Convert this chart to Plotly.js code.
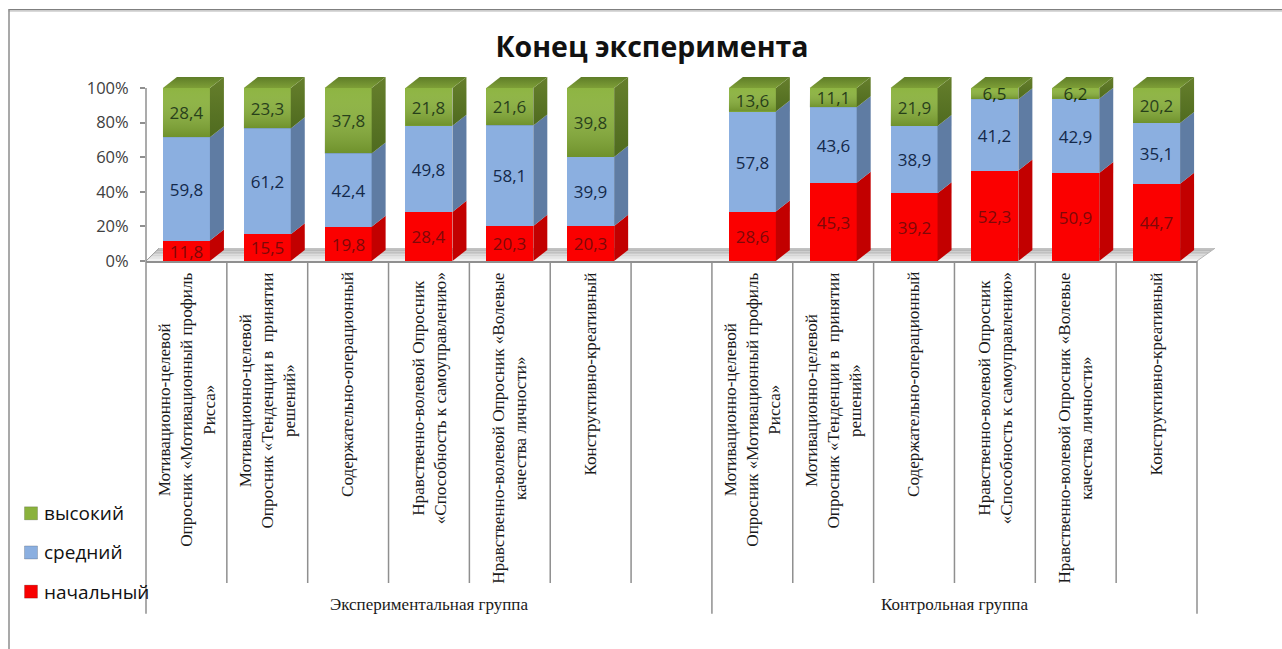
<!DOCTYPE html>
<html>
<head>
<meta charset="utf-8">
<script src="https://cdn.plot.ly/plotly-3.0.1.min.js"></script>
<style>html,body{margin:0;padding:0;background:#fff;overflow:hidden}</style>
</head>
<body>
<div id="chart" style="width:1282px;height:649px"></div>
<script>
const categories = [
  "Мотивационно-целевой<br>Опросник «Мотивационный профиль<br>Рисса»",
  "Мотивационно-целевой<br>Опросник «Тенденции в  принятии<br>решений»",
  "Содержательно-операционный",
  "Нравственно-волевой Опросник<br>«Способность к самоуправлению»",
  "Нравственно-волевой Опросник «Волевые<br>качества личности»",
  "Конструктивно-креативный",
  "",
  "Мотивационно-целевой<br>Опросник «Мотивационный профиль<br>Рисса»",
  "Мотивационно-целевой<br>Опросник «Тенденции в  принятии<br>решений»",
  "Содержательно-операционный",
  "Нравственно-волевой Опросник<br>«Способность к самоуправлению»",
  "Нравственно-волевой Опросник «Волевые<br>качества личности»",
  "Конструктивно-креативный"
];
const groupNames = ["Экспериментальная группа", "Контрольная группа"];
const groupEdges = [[-0.5, 6.5], [6.5, 12.5]];
const low  = [11.8, 15.5, 19.8, 28.4, 20.3, 20.3, null, 28.6, 45.3, 39.2, 52.3, 50.9, 44.7];
const mid  = [59.8, 61.2, 42.4, 49.8, 58.1, 39.9, null, 57.8, 43.6, 38.9, 41.2, 42.9, 35.1];
const high = [28.4, 23.3, 37.8, 21.8, 21.6, 39.8, null, 13.6, 11.1, 21.9,  6.5,  6.2, 20.2];
const yTicks = [0, 20, 40, 60, 80, 100];
const legendNames = ['высокий', 'средний', 'начальный'];
const legendColors = ['#8ab23c', '#8bafe0', '#f80000'];

const W = 1282, H = 649;
const L = 146, R = 1197, T100 = 88.5, B = 260.7;
const yMax = 107;
const unit = (B - T100) / 100;
const T = B - yMax * unit;
const px = v => (v - L) / (R - L);
const py = v => (B - v) / (B - T);
const barW = 47 / ((R - L) / 13);
const dxD = 14 / ((R - L) / 13), dyD = 11 / unit;
const xs = categories.map((_, i) => i);

function bar(name, vals, color, txt) {
  return {type:'bar', name, x:xs, y:vals, width:barW, showlegend:false,
    marker:{color, line:{width:0}},
    texttemplate:'%{y:.1f}', textposition:'inside', insidetextanchor:'middle', constraintext:'none',
    textangle:0, insidetextfont:{family:'Open Sans', size:17, color:txt}, hoverinfo:'name+y'};
}
const traces = [
  bar(legendNames[2], low, '#fb0000', '#7f0808'),
  bar(legendNames[1], mid, '#8bafe0', '#14294a'),
  bar(legendNames[0], high, '#8ab23c', '#14300a')
];
function poly(xArr, yArr, color, grad) {
  const t = {type:'scatter', mode:'lines', x:xArr, y:yArr, fill:'toself', line:{width:0},
    showlegend:false, hoverinfo:'skip', cliponaxis:false, fillcolor:color};
  if (grad) { t.fillgradient = {type:'vertical', colorscale:grad}; delete t.fillcolor; }
  return t;
}
// side and top faces, built from the stacked values
const series = [[low,'#c20000'],[mid,'#5f7ca3'],[high,'#5d7b27']];
const base = xs.map(() => 0);
series.forEach(([vals, color], s) => {
  xs.forEach(i => {
    if (vals[i] === null) return;
    const y0 = base[i], y1 = y0 + vals[i], xr = i + barW / 2, xl = i - barW / 2;
    const grad = s === 2 ? [[0,'#4f6b1f'],[1,'#667f2c']] : null;
    traces.push(poly([xr, xr + dxD, xr + dxD, xr, xr], [y0, y0 + dyD, y1 + dyD, y1, y0], color, grad));
    if (s === 2) {
      traces.push(poly([xl, xr, xr + dxD, xl + dxD, xl], [y1, y1, y1 + dyD, y1 + dyD, y1], '#6a8a2d',
        [[0,'#7e9f37'],[1,'#5f7d28']]));
      traces.push(poly([xl, xr, xr, xl, xl], [y0, y0, y1, y1, y0], 'rgba(0,0,0,0)',
        [[0,'rgba(40,60,0,0.28)'],[1,'rgba(255,255,255,0.03)']]));
    }
    base[i] = y1;
  });
});

const shapes = [];
const gl = (x0,y0,x1,y1,color,width) => shapes.push({type:'line', xref:'paper', yref:'paper',
  x0:px(x0), y0:py(y0), x1:px(x1), y1:py(y1), line:{color, width}, layer:'below'});
// frame
gl(8.5, 10.5, W, 10.5, '#7f7f7f', 1.5);
gl(8.5, 12, W, 12, '#d9d9d9', 1.5);
gl(9, 10, 9, H, '#8c8c8c', 1.5);
// floor
const floorBack = 248, strips = 8;
for (let k = 0; k < strips; k++) {
  const t0 = k / strips, t1 = (k + 1) / strips;
  const y0 = floorBack + (B - floorBack) * t0, y1 = floorBack + (B - floorBack) * t1;
  const xl = v => L + 13 * (1 - v), xr = v => R + 18 * (1 - v);
  const g = Math.round(165 + 75 * t1);
  shapes.push({type:'path', xref:'paper', yref:'paper', layer:'below', line:{width:0},
    fillcolor:`rgb(${g},${g},${g})`,
    path:`M${px(xl(t0))},${py(y0)} L${px(xr(t0))},${py(y0)} L${px(xr(t1))},${py(y1)} L${px(xl(t1))},${py(y1)} Z`});
}
gl(L, B, L + 13, floorBack, '#9a9a9a', 1);
gl(R, B, R + 18, floorBack, '#b5b5b5', 1);
// value axis line, stops at 100%
gl(L, B, L, T100, '#8f8f8f', 1.5);
// category dividers
const step = (R - L) / 13;
xs.concat([13]).forEach(k => {
  const isGroup = groupEdges.some(e => e[0] === k - 0.5 || e[1] === k - 0.5);
  gl(L + k * step, B, L + k * step, isGroup ? 612 : 581.5, '#8f8f8f', 1.5);
});

const annotations = [];
categories.forEach((c, i) => {
  if (!c) return;
  annotations.push({text:c, x:i, xref:'x', yref:'paper', y:py(270), yanchor:'top', xanchor:'center',
    textangle:-90, align:'center', showarrow:false,
    font:{family:'Liberation Serif', size:17.1, color:'#1a1a1a'}});
});
groupNames.forEach((g, i) => {
  annotations.push({text:g, x:(groupEdges[i][0] + groupEdges[i][1]) / 2, xref:'x', yref:'paper',
    y:py(602.5), yanchor:'middle', xanchor:'center', showarrow:false,
    font:{family:'Liberation Serif', size:17, color:'#1a1a1a'}});
});
// legend entries
const legendY = [512, 551, 590];
legendNames.forEach((n, i) => {
  const y = legendY[i];
  shapes.push({type:'rect', xref:'paper', yref:'paper', layer:'above',
    x0:px(24.5), x1:px(37.5), y0:py(y - 6.5), y1:py(y + 6.5),
    fillcolor:legendColors[i], line:{width:0.7, color:'rgba(0,0,0,0.25)'}});
  annotations.push({text:n, xref:'paper', yref:'paper', x:px(43), y:py(y), xanchor:'left', yanchor:'middle',
    showarrow:false, xshift:-1, font:{family:'Open Sans', size:19, color:'#111'}});
});

const layout = {
  width:W, height:H, autosize:false, separators:', ',
  paper_bgcolor:'#fff', plot_bgcolor:'rgba(0,0,0,0)',
  margin:{l:L, r:W - R, t:T, b:H - B, pad:0, autoexpand:false},
  barmode:'stack', bargap:0,
  title:{text:'Конец эксперимента', x:px(652), xanchor:'center', xref:'paper', y:1 - 47 / H, yanchor:'middle',
    font:{family:'Open Sans', size:28.5, color:'#111', weight:700}},
  xaxis:{range:[-0.5, 12.5], showgrid:false, zeroline:false, showticklabels:false, ticks:'',
    showline:true, linecolor:'#8f8f8f', linewidth:1.5},
  yaxis:{range:[0, yMax], tickvals:yTicks, ticktext:yTicks.map(v => v + '%'), showgrid:false, zeroline:false,
    ticks:'outside', ticklen:5, tickcolor:'#8f8f8f', tickwidth:1.5, showline:false,
    ticklabelstandoff:8, tickfont:{family:'Open Sans', size:16.5, color:'#404040'}},
  showlegend:false,
  shapes, annotations
};
Plotly.newPlot('chart', traces, layout, {displayModeBar:false, responsive:false});
</script>
</body>
</html>
